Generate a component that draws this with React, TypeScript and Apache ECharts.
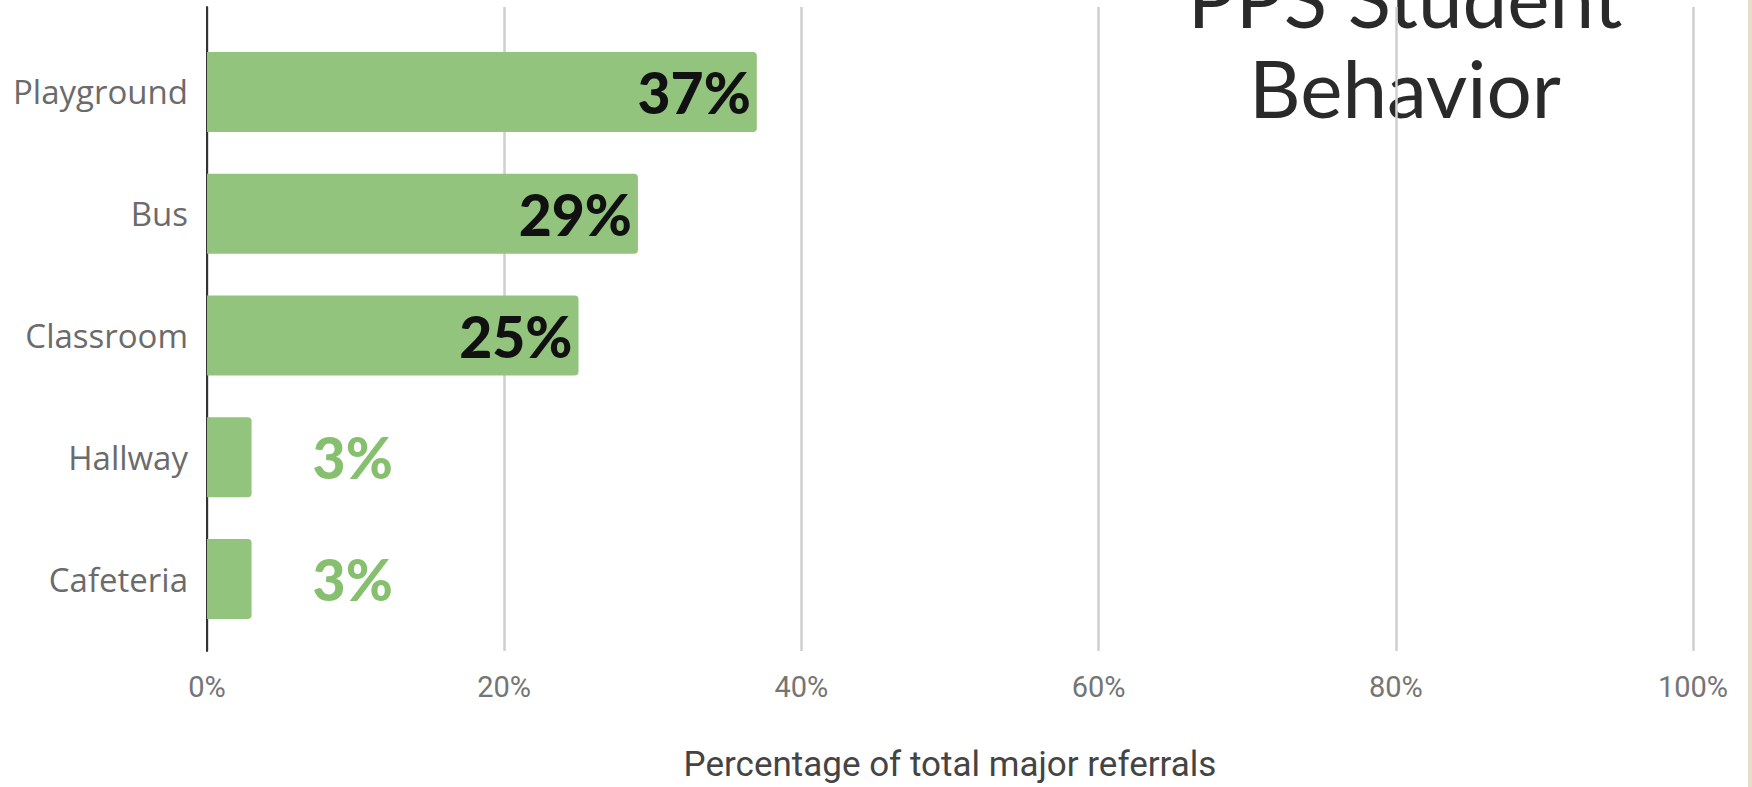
import React, { useEffect, useRef } from "react";
import * as echarts from "echarts";

const categories = ["Playground", "Bus", "Classroom", "Hallway", "Cafeteria"];
const values = [37, 29, 25, 3, 3];
const xTicks = [0, 20, 40, 60, 80, 100];
const titleText = "PPS Student\nBehavior";
const axisTitle = "Percentage of total major referrals";

export default function App() {
  const ref = useRef<HTMLDivElement>(null);
  useEffect(() => {
    if (!ref.current) return;
    const chart = echarts.init(ref.current, undefined, { renderer: "svg" });
    const data = values.map((v) => ({
      value: v,
      label:
        v >= 10
          ? { position: "insideRight", distance: 6, color: "#111111" }
          : { position: "right", distance: 61, color: "#86c06f" },
    }));
    chart.setOption({
      animation: false,
      backgroundColor: "#ffffff",
      grid: [
        { left: 207, right: 59, top: 7, bottom: 125 },
        { left: 207, right: 59, top: 31, height: 609 },
      ],
      xAxis: [
        {
          gridIndex: 0,
          type: "value",
          min: xTicks[0],
          max: xTicks[xTicks.length - 1],
          interval: 20,
          axisLine: { show: false },
          axisTick: { show: false },
          splitLine: { show: true, lineStyle: { color: "#cfcfcf", width: 2.5 } },
          axisLabel: {
            formatter: "{value}%",
            color: "#757575",
            fontFamily: "Roboto",
            fontSize: 29,
            margin: 21,
          },
          name: axisTitle,
          nameLocation: "middle",
          nameGap: 96,
          nameTextStyle: { color: "#444444", fontFamily: "Roboto", fontSize: 35 },
        },
        { gridIndex: 1, type: "value", min: 0, max: 100, show: false },
      ],
      yAxis: [
        {
          gridIndex: 0,
          type: "value",
          min: 0,
          max: 1,
          axisLine: { show: true, lineStyle: { color: "#333333", width: 2 } },
          axisTick: { show: false },
          axisLabel: { show: false },
          splitLine: { show: false },
        },
        {
          gridIndex: 1,
          type: "category",
          inverse: true,
          data: categories,
          axisLine: { show: false },
          axisTick: { show: false },
          axisLabel: {
            color: "#6b6b6b",
            fontFamily: "Open Sans",
            fontSize: 33,
            margin: 19,
          },
        },
      ],
      series: [
        {
          type: "bar",
          xAxisIndex: 1,
          yAxisIndex: 1,
          data,
          barWidth: 80,
          itemStyle: { color: "#93c47d", borderRadius: [0, 4, 4, 0] },
          label: {
            show: true,
            formatter: "{c}%",
            fontFamily: "Lato",
            fontWeight: 900,
            fontSize: 57,
          },
        },
      ],
      graphic: [
        {
          type: "rect",
          right: 0,
          top: 0,
          shape: { width: 4, height: 787 },
          style: { fill: "#e6dfc6" },
        },
        {
          type: "text",
          x: 1405,
          y: -48,
          style: {
            text: titleText,
            textAlign: "center",
            textVerticalAlign: "top",
            fontFamily: "Lato",
            fontSize: 80,
            lineHeight: 90,
            fill: "#2a2a2a",
          },
        },
      ],
    });
    return () => chart.dispose();
  }, []);
  return (
    <div
      ref={ref}
      style={{ position: "absolute", left: 0, top: 0, width: 1752, height: 787 }}
    />
  );
}
